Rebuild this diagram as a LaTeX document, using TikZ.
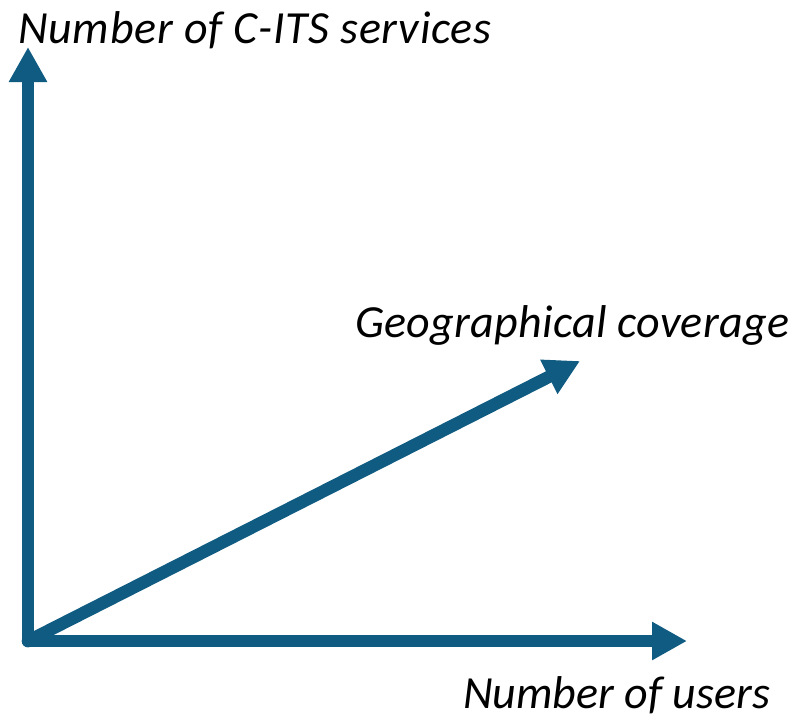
\documentclass[tikz,border=0pt]{standalone}
\usepackage{fontspec}
\setmainfont{Carlito}
\usetikzlibrary{arrows.meta}
\definecolor{axisblue}{RGB}{16,91,130}
\begin{document}
\begin{tikzpicture}[x=1pt,y=-1pt,>={Triangle[length=35pt,width=36pt]},
    axis/.style={->,draw=axisblue,fill=axisblue,line width=12.5pt,line cap=round},
    every node/.style={inner sep=0pt,anchor=base west,font=\fontsize{46}{55}\selectfont\itshape}]
    \useasboundingbox (0,0) rectangle (796,721);
    \coordinate (0) at (28,641);
    \coordinate (services) at (28,47);
    \coordinate (users) at (687,641);
    \coordinate (coverage) at (580,361);
    \draw [axis] (0) -- (services);
    \draw [axis] (0) -- (users);
    \draw [axis] (0) -- (coverage);
    \node (lservices) at (18,43) {\addfontfeature{LetterSpace=1.6}Number of C-ITS services};
    \node (lcoverage) at (355,337) {\addfontfeature{LetterSpace=0.6}Geographical coverage};
    \node (lusers) at (463,708) {Number of users};
    \end{tikzpicture}
\end{document}
